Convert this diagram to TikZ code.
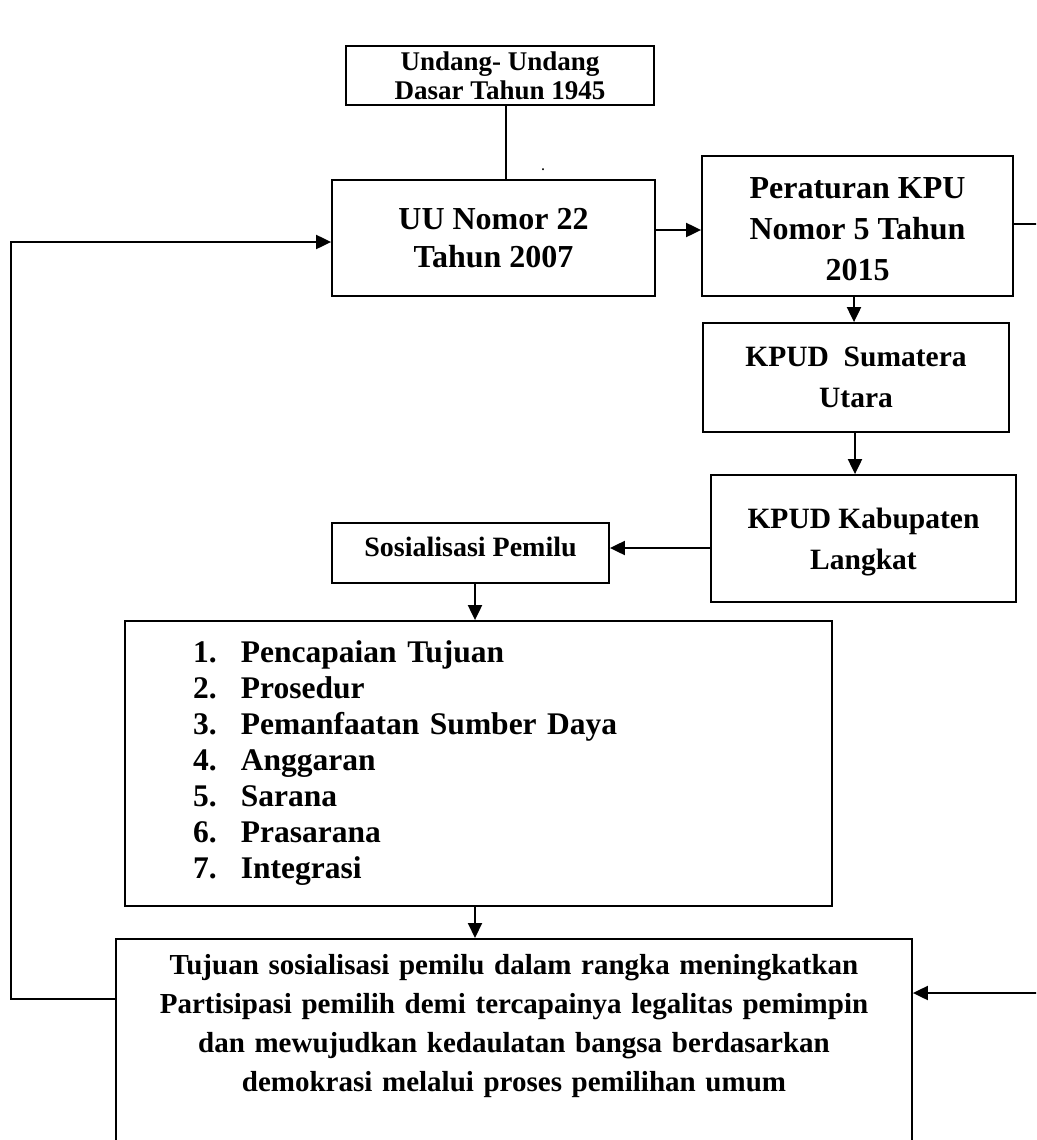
\documentclass[tikz,border=0pt]{standalone}
\usepackage{fontspec}
\setmainfont{Liberation Serif}
\usetikzlibrary{arrows.meta}
\newcommand{\boxfont}[2]{\fontsize{#1}{#2}\selectfont\bfseries}

\begin{document}
\begin{tikzpicture}[x=1pt,y=-1pt,
  box/.style={draw, line width=1.8pt, align=center, inner sep=0pt},
  arr/.style={line width=2pt, -{Triangle[length=15pt,width=14pt]}}]
  \clip (0,0) rectangle (1036,1140);
  % boxes
  \node[box, minimum width=308, minimum height=59, font=\boxfont{27}{29}] (uud) at (500,75.5) {Undang- Undang\\Dasar Tahun 1945};
  \node[box, minimum width=323, minimum height=116, font=\boxfont{32}{38}] (uu) at (493.5,238) {UU Nomor 22\\Tahun 2007};
  \node[box, minimum width=311, minimum height=140, font=\boxfont{32}{41}] (perkpu) at (857.5,226) {\rule{0pt}{27pt}Peraturan KPU\\Nomor 5 Tahun\\2015};
  \node[box, minimum width=306, minimum height=109, font=\boxfont{29.5}{41}] (kpudsu) at (856,377.5) {KPUD\ \ Sumatera\\Utara};
  \node[box, minimum width=305, minimum height=127, font=\boxfont{29.5}{41}] (kab) at (863.5,538.5) {\rule{0pt}{27pt}KPUD Kabupaten\\Langkat};
  \node[box, minimum width=277, minimum height=60, font=\boxfont{28}{30}] (sos) at (470.5,553) {Sosialisasi Pemilu\rule[-12pt]{0pt}{0pt}};
  \node[box, minimum width=707, minimum height=285, inner xsep=68pt, text width=571pt, align=left, font=\boxfont{31.5}{36}] (aspek) at (478.5,763.5) {%
    \begin{tabular}{@{}p{48pt}@{}l@{}}
      1. & Pencapaian Tujuan\\
      2. & Prosedur\\
      3. & Pemanfaatan Sumber Daya\\
      4. & Anggaran\\
      5. & Sarana\\
      6. & Prasarana\\
      7. & Integrasi
    \end{tabular}};
  \node[box, anchor=north, inner xsep=0pt, inner ysep=15pt, text width=796pt, font=\boxfont{29}{39}] (tujuan) at (514,938) {Tujuan sosialisasi pemilu dalam rangka meningkatkan\\Partisipasi pemilih demi tercapainya legalitas pemimpin\\dan mewujudkan kedaulatan bangsa berdasarkan\\demokrasi melalui proses pemilihan umum\\[70pt]~};
  \node[font=\boxfont{12}{12}, inner sep=0pt] (titik) at (543,170) {.};
  % connectors
  \draw[line width=1.3pt] ([xshift=6]uud.south) -- ([xshift=6]uud.south |- uu.north);
  \draw[arr] ([yshift=8]uu.east) -- ([yshift=8]uu.east -| perkpu.west);
  \draw[arr] ([xshift=-3.5]perkpu.south) -- ([xshift=-3.5]perkpu.south |- kpudsu.north);
  \draw[arr] ([xshift=-1]kpudsu.south) -- ([xshift=-1]kpudsu.south |- kab.north);
  \draw[arr] ([yshift=-9.5]kab.west) -- ([yshift=-9.5]kab.west -| sos.east);
  \draw[arr] ([xshift=4.5]sos.south) -- ([xshift=4.5]sos.south |- aspek.north);
  \draw[arr] ([xshift=-3.5]aspek.south) -- ([xshift=-3.5]aspek.south |- tujuan.north);
  \coordinate (kiri) at (11,999);
  \coordinate (kanan) at (1050,993);
  \draw[arr] (tujuan.west |- kiri) -- (kiri) |- ([yshift=-4]uu.west);
  \draw[arr] ([yshift=2]perkpu.east) -| (kanan) -- (tujuan.east |- kanan);
\end{tikzpicture}
\end{document}
